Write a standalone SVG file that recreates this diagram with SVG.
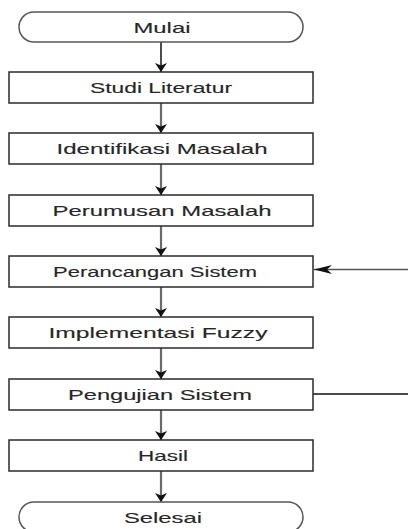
<svg xmlns="http://www.w3.org/2000/svg" width="408" height="529" viewBox="0 0 408 529">
<style>
.box{fill:#ffffff;stroke:#2a2a2a;stroke-width:1.5}
.term{fill:#ffffff;stroke:#555555;stroke-width:1.5}
.lbl{font-family:"Liberation Sans",Arial,sans-serif;font-size:15px;fill:#262626;stroke:#262626;stroke-width:0.12;text-anchor:middle}
.v{stroke:#6a6a6a;stroke-width:2.2;fill:none;marker-end:url(#ah)}
</style>
<defs>
<marker id="ah" viewBox="0 0 9 12" refX="9" refY="6" markerUnits="userSpaceOnUse" markerWidth="9" markerHeight="12" orient="auto">
<path d="M0,0 L9,6 L0,12 L2.5,6 z" fill="#111"/>
</marker>
<marker id="ahl" viewBox="0 0 18 9" refX="18" refY="4.5" markerUnits="userSpaceOnUse" markerWidth="18" markerHeight="9" orient="auto">
<path d="M0,0 L18,4.5 L0,9 L5,4.5 z" fill="#111"/>
</marker>
</defs>
<rect width="408" height="529" fill="#ffffff"/>
<g id="connectors">
<line x1="161" y1="42" x2="161" y2="72" class="v" style="stroke:#111;stroke-width:1.5"/>
<line x1="161" y1="103" x2="161" y2="133" class="v"/>
<line x1="161" y1="164" x2="161" y2="195" class="v"/>
<line x1="161" y1="226" x2="161" y2="256" class="v"/>
<line x1="161" y1="287" x2="161" y2="317" class="v"/>
<line x1="161" y1="348" x2="161" y2="379" class="v"/>
<line x1="161" y1="410" x2="161" y2="440" class="v"/>
<line x1="161" y1="471" x2="161" y2="502" class="v"/>
<line x1="408" y1="269.5" x2="314" y2="269.5" stroke="#555" stroke-width="1.5" marker-end="url(#ahl)"/>
<line x1="313" y1="394" x2="408" y2="394" stroke="#111" stroke-width="1.5"/>
</g>
<g id="mulai">
<rect x="19" y="12" width="284" height="30" rx="15" class="term"/>
<text x="162" y="32.5" class="lbl" textLength="57" lengthAdjust="spacingAndGlyphs">Mulai</text>
</g>
<g id="studi">
<rect x="9" y="72" width="304" height="31" class="box"/>
<text x="161" y="93" class="lbl" textLength="142" lengthAdjust="spacingAndGlyphs">Studi Literatur</text>
</g>
<g id="identifikasi">
<rect x="9" y="133" width="304" height="31" class="box"/>
<text x="162" y="154" class="lbl" textLength="211" lengthAdjust="spacingAndGlyphs">Identifikasi Masalah</text>
</g>
<g id="perumusan">
<rect x="9" y="195" width="304" height="31" class="box"/>
<text x="162" y="216" class="lbl" textLength="219" lengthAdjust="spacingAndGlyphs">Perumusan Masalah</text>
</g>
<g id="perancangan">
<rect x="9" y="256" width="304" height="31" class="box"/>
<text x="155" y="277" class="lbl" textLength="204" lengthAdjust="spacingAndGlyphs">Perancangan Sistem</text>
</g>
<g id="implementasi">
<rect x="9" y="317" width="304" height="31" class="box"/>
<text x="158" y="338" class="lbl" textLength="219" lengthAdjust="spacingAndGlyphs">Implementasi Fuzzy</text>
</g>
<g id="pengujian">
<rect x="9" y="379" width="304" height="31" class="box"/>
<text x="160" y="399.5" class="lbl" textLength="184" lengthAdjust="spacingAndGlyphs">Pengujian Sistem</text>
</g>
<g id="hasil">
<rect x="9" y="440" width="304" height="31" class="box"/>
<text x="163" y="461" class="lbl" textLength="50" lengthAdjust="spacingAndGlyphs">Hasil</text>
</g>
<g id="selesai">
<rect x="19" y="502" width="284" height="30" rx="15" class="term"/>
<text x="163" y="522.5" class="lbl" textLength="78" lengthAdjust="spacingAndGlyphs">Selesai</text>
</g>
</svg>
